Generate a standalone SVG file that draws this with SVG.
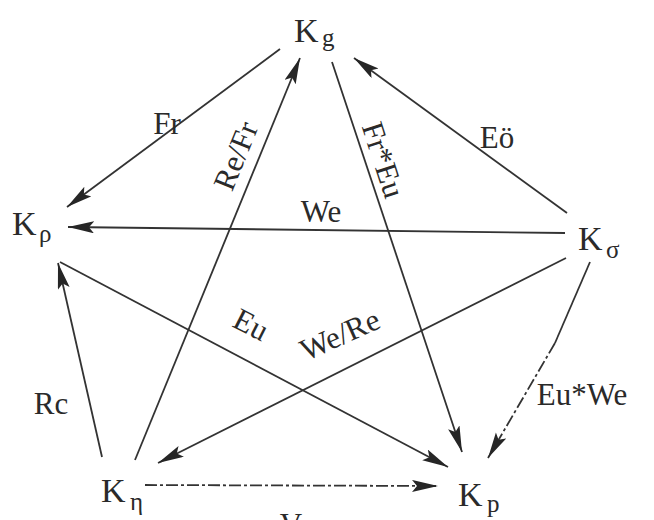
<svg xmlns="http://www.w3.org/2000/svg" width="654" height="520" viewBox="0 0 654 520">
<style>
.n{font-family:"Liberation Serif","DejaVu Serif",serif;font-size:34px;fill:#2a2a2a}
.s{font-family:"Liberation Serif","DejaVu Serif",serif;font-size:25px;fill:#2a2a2a}
.l{font-family:"Liberation Serif","DejaVu Serif",serif;font-size:31px;fill:#2a2a2a;text-anchor:middle}
.e{stroke:#333;stroke-width:1.8;fill:none}
.d{stroke-dasharray:12 3 3 3}
</style>
<defs>
<marker id="a" markerUnits="userSpaceOnUse" markerWidth="28" markerHeight="14" refX="26" refY="6" orient="auto">
<path d="M0,0 L26,6 L0,12 L5,6 z" fill="#262626"/>
</marker>
</defs>
<rect width="654" height="520" fill="#fff"/>
<g id="edges">
<line class="e" x1="280" y1="49" x2="67" y2="207" marker-end="url(#a)"/>
<line class="e" x1="135" y1="460" x2="300" y2="58" marker-end="url(#a)"/>
<line class="e" x1="332" y1="62" x2="462" y2="452" marker-end="url(#a)"/>
<line class="e" x1="567" y1="213" x2="354" y2="58" marker-end="url(#a)"/>
<line class="e" x1="565" y1="233" x2="68" y2="227" marker-end="url(#a)"/>
<line class="e" x1="60" y1="262" x2="448" y2="467" marker-end="url(#a)"/>
<line class="e" x1="566" y1="258" x2="158" y2="463" marker-end="url(#a)"/>
<line class="e" x1="590" y1="262" x2="555" y2="343"/>
<line class="e d" x1="555" y1="343" x2="488" y2="458" marker-end="url(#a)"/>
<line class="e" x1="102" y1="457" x2="58" y2="263" marker-end="url(#a)"/>
<line class="e d" x1="145" y1="485" x2="438" y2="486" marker-end="url(#a)"/>
</g>
<g id="Kg"><text class="n" x="294" y="42">K</text><text class="s" x="322" y="46">g</text></g>
<g id="Krho"><text class="n" x="12" y="235">K</text><text class="s" x="39" y="242">ρ</text></g>
<g id="Ksigma"><text class="n" x="578" y="250">K</text><text class="s" x="606" y="258">σ</text></g>
<g id="Keta"><text class="n" x="101" y="502">K</text><text class="s" x="130" y="510">η</text></g>
<g id="Kp"><text class="n" x="458" y="506">K</text><text class="s" x="487" y="512">p</text></g>
<g id="labels">
<text class="l" x="167" y="134">Fr</text>
<text class="l" x="497" y="148">Eö</text>
<text class="l" x="321" y="222">We</text>
<text class="l" x="51" y="414">Rc</text>
<text class="l" x="582" y="405">Eu*We</text>
<text class="l" transform="translate(236,156) rotate(-68)" y="10">Re/Fr</text>
<text class="l" transform="translate(383,160) rotate(72)" y="10">Fr*Eu</text>
<text class="l" transform="translate(251,325) rotate(27)" y="10">Eu</text>
<text class="l" transform="translate(340,335) rotate(-24)" y="10">We/Re</text>
<text class="l" x="291" y="535">V</text>
</g>
</svg>
